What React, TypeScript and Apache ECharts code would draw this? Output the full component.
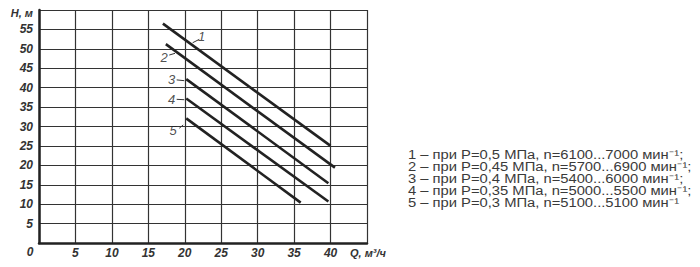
import React, { useEffect, useRef } from "react";
import * as echarts from "echarts";

// Curve end points [Q, H]
const curve1 = [[17, 56.5], [40, 25]];
const curve2 = [[17.4, 51.2], [40.6, 19.4]];
const curve3 = [[20.2, 42.2], [39.7, 15.4]];
const curve4 = [[20.2, 37.2], [39.7, 10.7]];
const curve5 = [[20.2, 32.1], [35.9, 10.4]];
const curves = [curve1, curve2, curve3, curve4, curve5];

// Curve number labels [Q, H, text]
const curveLabels: [number, number, string][] = [
  [22.3, 53.3, "1"],
  [17.15, 47.8, "2"],
  [18.2, 42.0, "3"],
  [18.2, 37.0, "4"],
  [18.4, 28.9, "5"],
];
// Leader lines from label to curve
const leaders = [
  [[21.08, 51.57], [21.99, 52.44]],
  [[17.87, 48.4], [18.66, 48.84]],
  [[18.89, 42.0], [19.93, 41.8]],
  [[18.89, 37.0], [19.93, 36.9]],
  [[19.25, 29.56], [19.79, 30.4]],
];

const legendLines = [
  "1 – при P=0,5 МПа, n=6100...7000 мин",
  "2 – при P=0,45 МПа, n=5700...6900 мин",
  "3 – при P=0,4 МПа, n=5400...6000 мин",
  "4 – при P=0,35 МПа, n=5000...5500 мин",
  "5 – при P=0,3 МПа, n=5100...5100 мин",
];
const legendEnds = [";", ";", ";", ";", ""];

const xMin = 0, xMax = 45, xStep = 5;
const yMin = 0, yMax = 60, yStep = 5;

export default function App() {
  const ref = useRef<HTMLDivElement>(null);
  useEffect(() => {
    document.body.style.margin = "0";
    const chart = echarts.init(ref.current!, null, { renderer: "svg" });
    const font = "'Liberation Sans', Arial, sans-serif";
    const axisLabelStyle = {
      fontStyle: "italic" as const,
      fontWeight: "bold" as const,
      fontSize: 12,
      color: "#333",
      fontFamily: font,
    };
    const series: any[] = [];
    curves.forEach((c) => {
      series.push({
        type: "line",
        data: c,
        symbol: "none",
        lineStyle: { color: "#222", width: 2.6 },
        silent: true,
      });
    });
    leaders.forEach((l) => {
      series.push({
        type: "line",
        data: l,
        symbol: "none",
        lineStyle: { color: "#333", width: 1 },
        silent: true,
      });
    });
    series.push({
      type: "scatter",
      symbolSize: 0,
      data: curveLabels.map((d) => ({ value: [d[0], d[1]], name: d[2] })),
      label: {
        show: true,
        position: "inside",
        formatter: (p: any) => p.name,
        fontStyle: "italic",
        fontSize: 13,
        color: "#222",
        fontFamily: font,
      },
      silent: true,
    });

    const graphics: any[] = [
      {
        type: "text",
        x: 33,
        y: 13,
        style: {
          text: "H, м",
          font: `italic bold 11px ${font}`,
          fill: "#333",
          align: "right",
          verticalAlign: "middle",
        },
      },
      {
        type: "text",
        x: 30,
        y: 252,
        style: {
          text: "0",
          font: `italic bold 12px ${font}`,
          fill: "#333",
          align: "center",
          verticalAlign: "middle",
        },
      },
    ];
    legendLines.forEach((t, i) => {
      graphics.push({
        type: "text",
        x: 408,
        y: 155 + i * 12.1,
        scaleX: 1.23,
        style: {
          text: `${t}⁻¹${legendEnds[i]}`,
          fontFamily: font,
          fontSize: 12,
          fill: "#3a3a3a",
          verticalAlign: "middle",
        },
      });
    });

    chart.setOption({
      animation: false,
      backgroundColor: "#fff",
      grid: { left: 39, right: 333, top: 10, bottom: 24, containLabel: false },
      xAxis: {
        type: "value",
        min: xMin,
        max: xMax,
        interval: xStep,
        axisLine: { show: true, lineStyle: { color: "#222", width: 2.5 } },
        axisTick: { show: false },
        splitLine: { show: true, lineStyle: { color: "#333", width: 1.2 } },
        axisLabel: {
          ...axisLabelStyle,
          margin: 4,
          showMinLabel: true,
          showMaxLabel: true,
          formatter: (v: number) =>
            v === 0 ? "" : v === 45 ? "{q|Q, м³/ч}" : String(v),
          rich: {
            q: { ...axisLabelStyle, fontSize: 11, padding: [0, 0, 0, 2] },
          },
        },
      },
      yAxis: {
        type: "value",
        min: yMin,
        max: yMax,
        interval: yStep,
        axisLine: { show: true, lineStyle: { color: "#222", width: 2.5 } },
        axisTick: { show: false },
        splitLine: { show: true, lineStyle: { color: "#333", width: 1.2 } },
        axisLabel: {
          ...axisLabelStyle,
          margin: 6,
          formatter: (v: number) => (v === 0 || v === 60 ? "" : String(v)),
        },
      },
      graphic: graphics,
      series,
    });
    return () => chart.dispose();
  }, []);
  return <div ref={ref} style={{ width: 700, height: 267 }} />;
}
